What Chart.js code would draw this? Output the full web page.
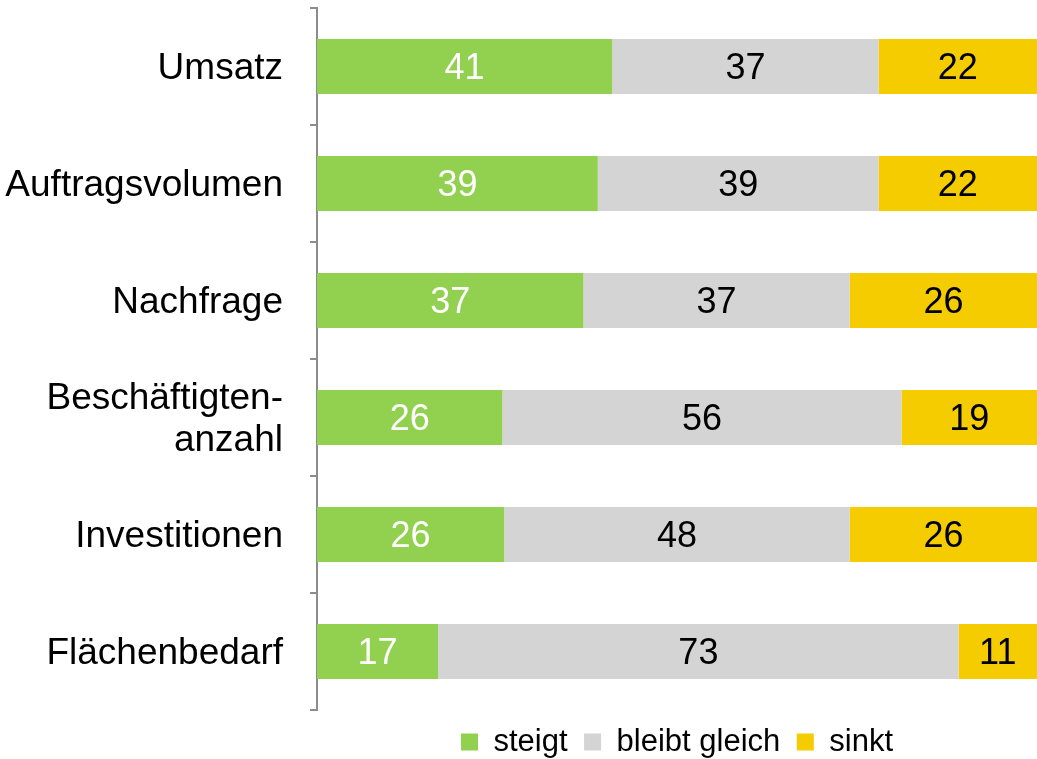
<!DOCTYPE html>
<html>
<head>
<meta charset="utf-8">
<script src="https://cdn.jsdelivr.net/npm/chart.js@4.4.1/dist/chart.umd.min.js"></script>
<style>
  html, body { margin: 0; padding: 0; background: #fff; }
  #wrap { width: 1037px; height: 759px; }
</style>
</head>
<body>
<div id="wrap"><canvas id="chart"></canvas></div>
<script>
const categories = ['Umsatz', 'Auftragsvolumen', 'Nachfrage', ['Beschäftigten-', 'anzahl'], 'Investitionen', 'Flächenbedarf'];
const steigt = [41, 39, 37, 26, 26, 17];
const bleibtGleich = [37, 39, 37, 56, 48, 73];
const sinkt = [22, 22, 26, 19, 26, 11];

const FONT = "'Liberation Sans', Arial, sans-serif";

// 100%-gestapelt: Anteile je Kategorie
const totals = steigt.map((v, i) => v + bleibtGleich[i] + sinkt[i]);
const share = arr => arr.map((v, i) => v / totals[i] * 100);

const series = [
  { label: 'steigt', raw: steigt, color: '#92D050', text: '#ffffff' },
  { label: 'bleibt gleich', raw: bleibtGleich, color: '#D4D4D4', text: '#000000' },
  { label: 'sinkt', raw: sinkt, color: '#F4CC00', text: '#000000' }
];

// Zahlen mittig in die Balken schreiben
const valueLabels = {
  id: 'valueLabels',
  afterDatasetsDraw(chart) {
    const ctx = chart.ctx;
    ctx.save();
    ctx.font = '36px ' + FONT;
    ctx.textAlign = 'center';
    ctx.textBaseline = 'middle';
    chart.data.datasets.forEach((ds, di) => {
      const meta = chart.getDatasetMeta(di);
      meta.data.forEach((bar, i) => {
        ctx.fillStyle = series[di].text;
        ctx.fillText(String(series[di].raw[i]), (bar.x + bar.base) / 2, bar.y + 3);
      });
    });
    ctx.restore();
  }
};

new Chart(document.getElementById('chart'), {
  type: 'bar',
  data: {
    labels: categories,
    datasets: series.map(s => ({
      label: s.label,
      data: share(s.raw),
      backgroundColor: s.color,
      borderWidth: 0,
      barPercentage: 0.47,
      categoryPercentage: 1
    }))
  },
  options: {
    indexAxis: 'y',
    responsive: true,
    maintainAspectRatio: false,
    animation: false,
    layout: { padding: { top: 8, right: 0, bottom: 0, left: 0 } },
    scales: {
      x: { stacked: true, min: 0, max: 100, display: false },
      y: {
        stacked: true,
        afterFit: scale => {
          scale.width = 317;
          scale.paddingTop = 0;
          scale.paddingBottom = 0;
        },
        grid: { display: true, drawOnChartArea: false, drawTicks: true, tickLength: 7, color: '#8c8c8c', lineWidth: 2, offset: true },
        border: { display: true, color: '#8c8c8c', width: 2 },
        ticks: { color: '#000', padding: 27, labelOffset: 2, font: { family: FONT, size: 37, lineHeight: 1.14 } }
      }
    },
    plugins: {
      legend: {
        position: 'bottom',
        fullSize: false,
        maxHeight: 49,
        labels: { boxWidth: 17, boxHeight: 17, padding: 16.5, color: '#000', font: { family: FONT, size: 31 } }
      },
      tooltip: { enabled: false }
    }
  },
  plugins: [valueLabels]
});
</script>
</body>
</html>
